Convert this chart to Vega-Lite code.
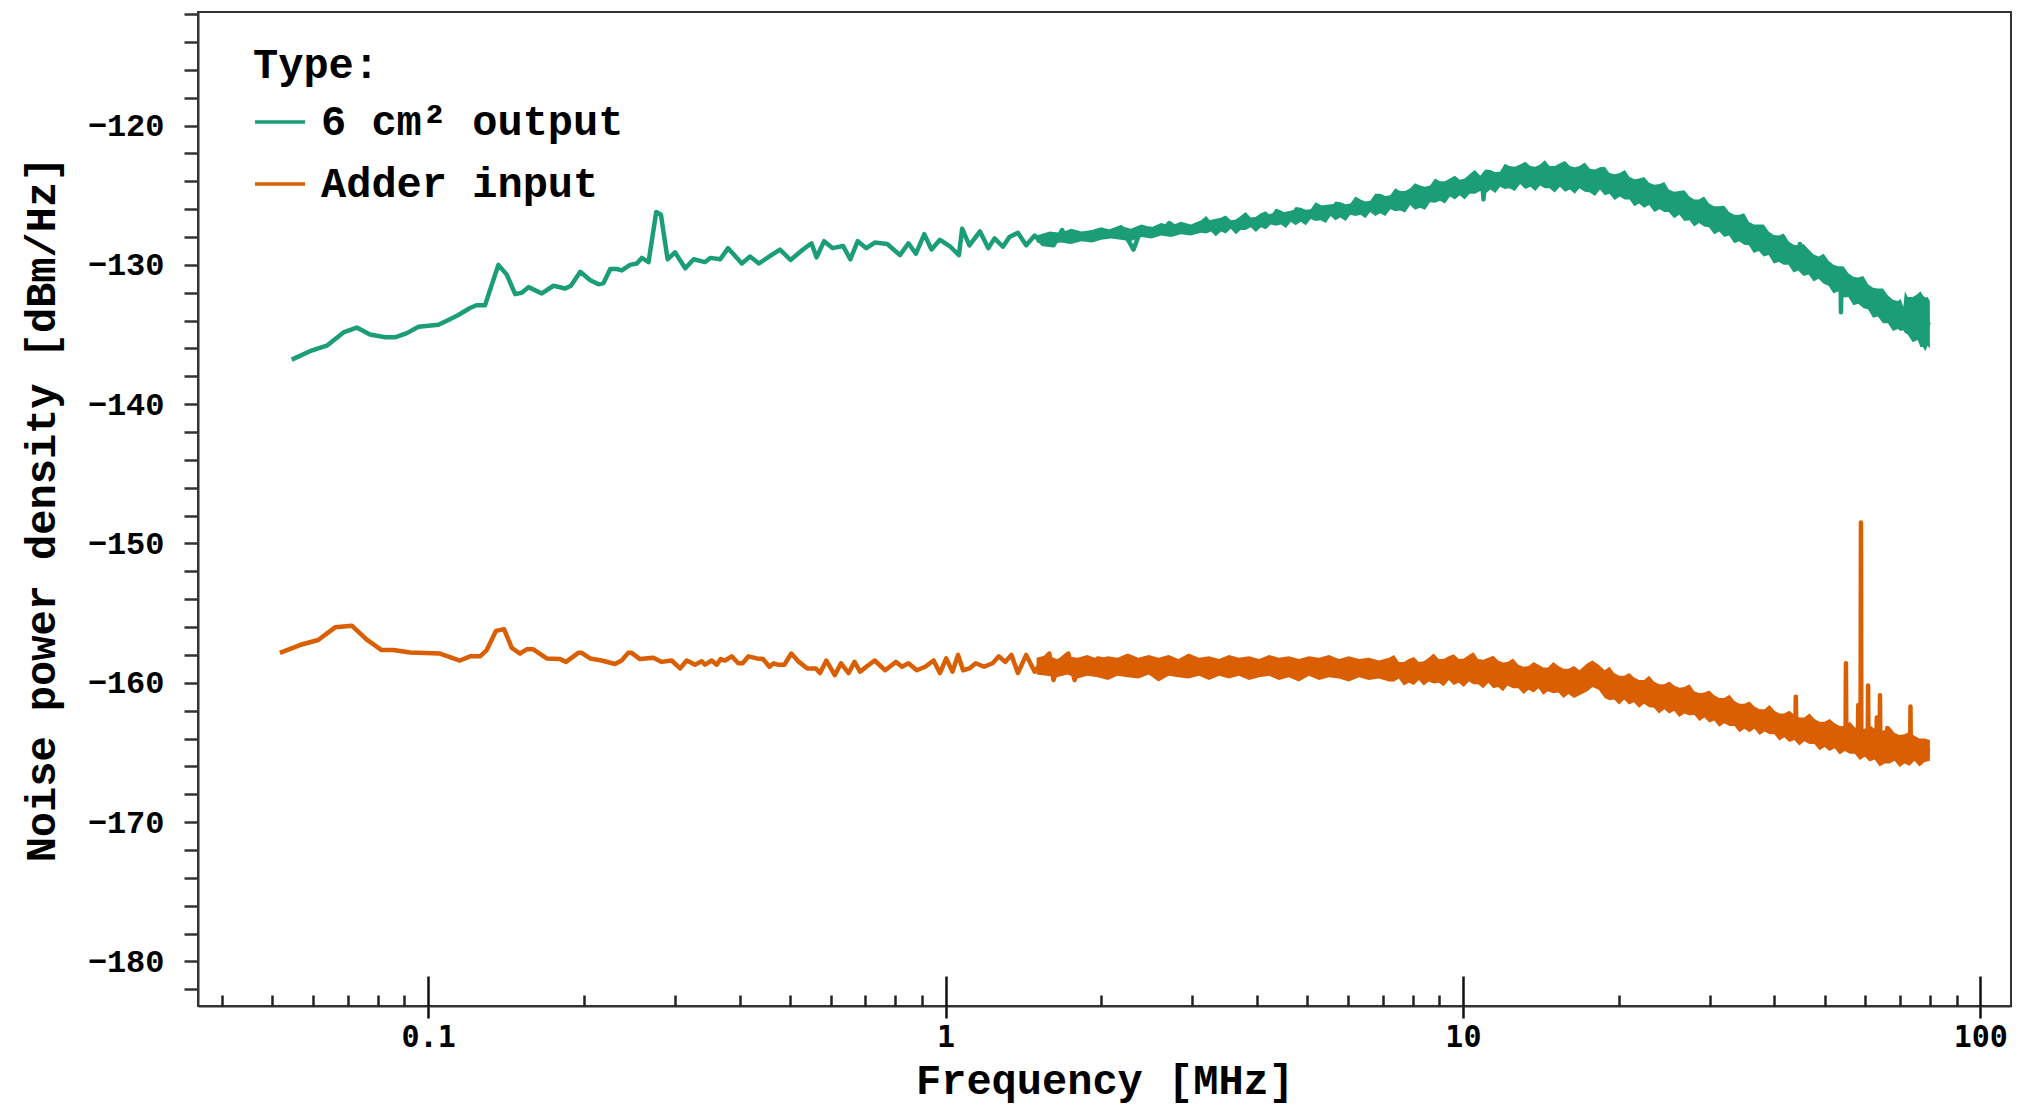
{
  "$schema": "https://vega.github.io/schema/vega-lite/v6.json",
  "autosize": {"type": "none"},
  "width": 1813,
  "height": 994,
  "padding": {"left": 198, "top": 12, "right": 17, "bottom": 99},
  "background": "white",
  "config": {
    "view": {"stroke": "#333", "strokeWidth": 2},
    "axis": {"grid": false, "domainColor": "#333", "domainWidth": 2, "tickColor": "#222", "tickWidth": 2.5, "labelColor": "#000", "titleColor": "#000"},
    "axisY": {"title": "Noise power density [dBm/Hz]",
      "values": [-115, -120, -125, -130, -135, -140, -145, -150, -155, -160, -165, -170, -175, -180],
      "labelExpr": "datum.value % 10 === 0 ? datum.label : ''",
      "tickSize": 14, "tickWidth": 2.5, "tickColor": "#333", "labelOverlap": false, "labelFlush": false,
      "labelFont": "Courier New, Liberation Mono, monospace", "labelFontSize": 32, "labelFontWeight": "bold", "labelPadding": 20,
      "titleFont": "Courier New, Liberation Mono, monospace", "titleFontSize": 42, "titleFontWeight": "bold", "titlePadding": 24},
    "legend": {"orient": "none", "legendX": 55, "legendY": 33, "padding": 0, "labelLimit": 0,
      "titleFont": "Courier New, Liberation Mono, monospace", "titleFontSize": 42, "titleFontWeight": "bold", "titleColor": "#000", "titlePadding": 8,
      "labelFont": "Courier New, Liberation Mono, monospace", "labelFontSize": 42, "labelFontWeight": "bold", "labelColor": "#000",
      "symbolType": "stroke", "symbolSize": 2500, "symbolStrokeWidth": 3.5, "labelOffset": 14, "rowPadding": 14}
  },
  "datasets": {
    "green": [
      {"s":"6 cm² output","f":0.0545,"v":-136.8},{"s":"6 cm² output","f":0.0591,"v":-136.2},{"s":"6 cm² output","f":0.0637,"v":-135.8},{"s":"6 cm² output","f":0.0686,"v":-134.85},{"s":"6 cm² output","f":0.0728,"v":-134.5},{"s":"6 cm² output","f":0.0772,"v":-135.0},{"s":"6 cm² output","f":0.0826,"v":-135.2},{"s":"6 cm² output","f":0.0863,"v":-135.2},{"s":"6 cm² output","f":0.091,"v":-134.9},{"s":"6 cm² output","f":0.0958,"v":-134.45},
      {"s":"6 cm² output","f":0.1047,"v":-134.3},{"s":"6 cm² output","f":0.1102,"v":-133.9},{"s":"6 cm² output","f":0.1144,"v":-133.6},{"s":"6 cm² output","f":0.1205,"v":-133.1},{"s":"6 cm² output","f":0.124,"v":-132.9},{"s":"6 cm² output","f":0.1288,"v":-132.9},{"s":"6 cm² output","f":0.1367,"v":-130.0},{"s":"6 cm² output","f":0.1419,"v":-130.7},{"s":"6 cm² output","f":0.1473,"v":-132.1},{"s":"6 cm² output","f":0.1517,"v":-132.0},
      {"s":"6 cm² output","f":0.1563,"v":-131.6},{"s":"6 cm² output","f":0.1659,"v":-132.05},{"s":"6 cm² output","f":0.1747,"v":-131.5},{"s":"6 cm² output","f":0.184,"v":-131.7},{"s":"6 cm² output","f":0.1888,"v":-131.5},{"s":"6 cm² output","f":0.1968,"v":-130.5},{"s":"6 cm² output","f":0.2058,"v":-131.1},{"s":"6 cm² output","f":0.2135,"v":-131.4},{"s":"6 cm² output","f":0.2183,"v":-131.3},{"s":"6 cm² output","f":0.2249,"v":-130.3},
      {"s":"6 cm² output","f":0.2317,"v":-130.3},{"s":"6 cm² output","f":0.2368,"v":-130.4},{"s":"6 cm² output","f":0.2456,"v":-130.0},{"s":"6 cm² output","f":0.2531,"v":-129.9},{"s":"6 cm² output","f":0.2588,"v":-129.5},{"s":"6 cm² output","f":0.2667,"v":-129.8},{"s":"6 cm² output","f":0.276,"v":-126.2},{"s":"6 cm² output","f":0.2818,"v":-126.4},{"s":"6 cm² output","f":0.2903,"v":-129.6},{"s":"6 cm² output","f":0.3,"v":-129.1},
      {"s":"6 cm² output","f":0.314,"v":-130.25},{"s":"6 cm² output","f":0.326,"v":-129.6},{"s":"6 cm² output","f":0.343,"v":-129.8},{"s":"6 cm² output","f":0.351,"v":-129.5},{"s":"6 cm² output","f":0.367,"v":-129.6},{"s":"6 cm² output","f":0.38,"v":-128.8},{"s":"6 cm² output","f":0.404,"v":-129.9},{"s":"6 cm² output","f":0.419,"v":-129.4},{"s":"6 cm² output","f":0.4358,"v":-129.9},{"s":"6 cm² output","f":0.4568,"v":-129.4},
      {"s":"6 cm² output","f":0.4787,"v":-128.9},{"s":"6 cm² output","f":0.5017,"v":-129.65},{"s":"6 cm² output","f":0.5304,"v":-128.9},{"s":"6 cm² output","f":0.5508,"v":-128.45},{"s":"6 cm² output","f":0.5633,"v":-129.46},{"s":"6 cm² output","f":0.5826,"v":-128.3},{"s":"6 cm² output","f":0.6048,"v":-128.8},{"s":"6 cm² output","f":0.634,"v":-128.65},{"s":"6 cm² output","f":0.6546,"v":-129.6},{"s":"6 cm² output","f":0.6767,"v":-128.3},
      {"s":"6 cm² output","f":0.703,"v":-128.8},{"s":"6 cm² output","f":0.7297,"v":-128.4},{"s":"6 cm² output","f":0.7718,"v":-128.5},{"s":"6 cm² output","f":0.8164,"v":-129.3},{"s":"6 cm² output","f":0.8479,"v":-128.45},{"s":"6 cm² output","f":0.8766,"v":-129.2},{"s":"6 cm² output","f":0.91,"v":-127.8},{"s":"6 cm² output","f":0.9395,"v":-128.9},{"s":"6 cm² output","f":0.9754,"v":-128.2},{"s":"6 cm² output","f":1.022,"v":-128.7},
      {"s":"6 cm² output","f":1.0614,"v":-129.3},{"s":"6 cm² output","f":1.077,"v":-127.4},{"s":"6 cm² output","f":1.112,"v":-128.6},{"s":"6 cm² output","f":1.166,"v":-127.6},{"s":"6 cm² output","f":1.21,"v":-128.8},{"s":"6 cm² output","f":1.244,"v":-128.1},{"s":"6 cm² output","f":1.291,"v":-128.7},{"s":"6 cm² output","f":1.329,"v":-128.0},{"s":"6 cm² output","f":1.38,"v":-127.7},{"s":"6 cm² output","f":1.432,"v":-128.6},
      {"s":"6 cm² output","f":1.487,"v":-127.9},{"s":"6 cm² output","f":1.543,"v":-128.5},{"s":"6 cm² output","f":1.617,"v":-128.6},{"s":"6 cm² output","f":1.68,"v":-127.5},{"s":"6 cm² output","f":1.727,"v":-128.3},{"s":"6 cm² output","f":1.793,"v":-127.7},{"s":"6 cm² output","f":1.896,"v":-128.2},{"s":"6 cm² output","f":1.987,"v":-128.0},{"s":"6 cm² output","f":2.083,"v":-127.6},{"s":"6 cm² output","f":2.183,"v":-127.3},
      {"s":"6 cm² output","f":2.309,"v":-128.9},{"s":"6 cm² output","f":2.374,"v":-127.7},{"s":"6 cm² output","f":2.488,"v":-127.4},{"s":"6 cm² output","f":2.609,"v":-127.7},{"s":"6 cm² output","f":2.707,"v":-127.0},{"s":"6 cm² output","f":2.864,"v":-127.6},{"s":"6 cm² output","f":3.029,"v":-127.3},{"s":"6 cm² output","f":3.205,"v":-127.0},{"s":"6 cm² output","f":3.39,"v":-126.8},{"s":"6 cm² output","f":3.585,"v":-127.1},
      {"s":"6 cm² output","f":3.794,"v":-126.7},{"s":"6 cm² output","f":4.012,"v":-126.9},{"s":"6 cm² output","f":4.244,"v":-126.5},{"s":"6 cm² output","f":4.488,"v":-126.4},{"s":"6 cm² output","f":4.748,"v":-126.2},{"s":"6 cm² output","f":5.023,"v":-126.3},{"s":"6 cm² output","f":5.313,"v":-125.9},{"s":"6 cm² output","f":5.62,"v":-125.8},{"s":"6 cm² output","f":5.947,"v":-126.1},{"s":"6 cm² output","f":6.291,"v":-125.7},
      {"s":"6 cm² output","f":6.653,"v":-125.8},{"s":"6 cm² output","f":7.036,"v":-125.6},{"s":"6 cm² output","f":7.557,"v":-125.5},{"s":"6 cm² output","f":8.5,"v":-125.0},{"s":"6 cm² output","f":10.9,"v":-124.0},{"s":"6 cm² output","f":10.96,"v":-125.3},{"s":"6 cm² output","f":11.02,"v":-124.0},{"s":"6 cm² output","f":13.5,"v":-123.6},{"s":"6 cm² output","f":20,"v":-124.2},{"s":"6 cm² output","f":30,"v":-126.4},
      {"s":"6 cm² output","f":40,"v":-128.6},{"s":"6 cm² output","f":44.7,"v":-129.4},{"s":"6 cm² output","f":44.8,"v":-128.5},{"s":"6 cm² output","f":44.9,"v":-129.4},{"s":"6 cm² output","f":50,"v":-130.5},{"s":"6 cm² output","f":53.7,"v":-131.0},{"s":"6 cm² output","f":53.8,"v":-133.4},{"s":"6 cm² output","f":53.9,"v":-131.0},{"s":"6 cm² output","f":60,"v":-132.2},{"s":"6 cm² output","f":70,"v":-133.5},{"s":"6 cm² output","f":80,"v":-134.3}
    ],
    "orange": [
      {"s":"Adder input","f":0.0517,"v":-157.85},{"s":"Adder input","f":0.0565,"v":-157.29},{"s":"Adder input","f":0.0613,"v":-156.93},{"s":"Adder input","f":0.0661,"v":-156.02},{"s":"Adder input","f":0.0712,"v":-155.9},{"s":"Adder input","f":0.0761,"v":-156.9},{"s":"Adder input","f":0.0813,"v":-157.65},{"s":"Adder input","f":0.0857,"v":-157.65},{"s":"Adder input","f":0.0923,"v":-157.82},{"s":"Adder input","f":0.1054,"v":-157.9},
      {"s":"Adder input","f":0.1152,"v":-158.4},{"s":"Adder input","f":0.1205,"v":-158.1},{"s":"Adder input","f":0.126,"v":-158.1},{"s":"Adder input","f":0.1298,"v":-157.65},{"s":"Adder input","f":0.1353,"v":-156.27},{"s":"Adder input","f":0.1402,"v":-156.15},{"s":"Adder input","f":0.1451,"v":-157.5},{"s":"Adder input","f":0.1505,"v":-157.9},{"s":"Adder input","f":0.1551,"v":-157.6},{"s":"Adder input","f":0.1597,"v":-157.6},
      {"s":"Adder input","f":0.1695,"v":-158.25},{"s":"Adder input","f":0.1799,"v":-158.3},{"s":"Adder input","f":0.1847,"v":-158.5},{"s":"Adder input","f":0.1951,"v":-157.85},{"s":"Adder input","f":0.1981,"v":-157.85},{"s":"Adder input","f":0.2056,"v":-158.25},{"s":"Adder input","f":0.2165,"v":-158.4},{"s":"Adder input","f":0.2297,"v":-158.65},{"s":"Adder input","f":0.2366,"v":-158.4},{"s":"Adder input","f":0.2436,"v":-157.85},
      {"s":"Adder input","f":0.2474,"v":-157.85},{"s":"Adder input","f":0.2567,"v":-158.3},{"s":"Adder input","f":0.2725,"v":-158.2},{"s":"Adder input","f":0.2828,"v":-158.5},{"s":"Adder input","f":0.2956,"v":-158.4},{"s":"Adder input","f":0.3068,"v":-158.97},{"s":"Adder input","f":0.3161,"v":-158.4},{"s":"Adder input","f":0.328,"v":-158.7},{"s":"Adder input","f":0.3379,"v":-158.45},{"s":"Adder input","f":0.3429,"v":-158.7},
      {"s":"Adder input","f":0.3532,"v":-158.4},{"s":"Adder input","f":0.3612,"v":-158.7},{"s":"Adder input","f":0.3677,"v":-158.3},{"s":"Adder input","f":0.3748,"v":-158.4},{"s":"Adder input","f":0.3862,"v":-158.1},{"s":"Adder input","f":0.3976,"v":-158.6},{"s":"Adder input","f":0.4055,"v":-158.6},{"s":"Adder input","f":0.4158,"v":-158.1},{"s":"Adder input","f":0.4317,"v":-158.25},{"s":"Adder input","f":0.4441,"v":-158.3},
      {"s":"Adder input","f":0.4568,"v":-158.85},{"s":"Adder input","f":0.4656,"v":-158.6},{"s":"Adder input","f":0.4744,"v":-158.7},{"s":"Adder input","f":0.488,"v":-158.7},{"s":"Adder input","f":0.5035,"v":-157.9},{"s":"Adder input","f":0.5208,"v":-158.5},{"s":"Adder input","f":0.5406,"v":-158.97},{"s":"Adder input","f":0.5614,"v":-158.97},{"s":"Adder input","f":0.572,"v":-159.3},{"s":"Adder input","f":0.5884,"v":-158.4},
      {"s":"Adder input","f":0.6108,"v":-159.45},{"s":"Adder input","f":0.6281,"v":-158.6},{"s":"Adder input","f":0.6497,"v":-159.3},{"s":"Adder input","f":0.667,"v":-158.5},{"s":"Adder input","f":0.6837,"v":-159.2},{"s":"Adder input","f":0.703,"v":-158.85},{"s":"Adder input","f":0.7297,"v":-158.4},{"s":"Adder input","f":0.7645,"v":-159.1},{"s":"Adder input","f":0.8014,"v":-158.5},{"s":"Adder input","f":0.824,"v":-158.85},
      {"s":"Adder input","f":0.8479,"v":-158.6},{"s":"Adder input","f":0.88,"v":-159.1},{"s":"Adder input","f":0.9136,"v":-158.85},{"s":"Adder input","f":0.9484,"v":-158.4},{"s":"Adder input","f":0.9754,"v":-159.3},{"s":"Adder input","f":1.0031,"v":-158.25},{"s":"Adder input","f":1.0316,"v":-159.2},{"s":"Adder input","f":1.0572,"v":-158.0},{"s":"Adder input","f":1.0815,"v":-159.1},{"s":"Adder input","f":1.112,"v":-158.97},
      {"s":"Adder input","f":1.144,"v":-158.6},{"s":"Adder input","f":1.187,"v":-158.85},{"s":"Adder input","f":1.233,"v":-158.6},{"s":"Adder input","f":1.268,"v":-158.1},{"s":"Adder input","f":1.304,"v":-158.5},{"s":"Adder input","f":1.341,"v":-158.0},{"s":"Adder input","f":1.38,"v":-159.3},{"s":"Adder input","f":1.432,"v":-158.0},{"s":"Adder input","f":1.487,"v":-159.2},{"s":"Adder input","f":1.543,"v":-158.4},
      {"s":"Adder input","f":1.587,"v":-157.9},{"s":"Adder input","f":1.617,"v":-159.8},{"s":"Adder input","f":1.664,"v":-158.4},{"s":"Adder input","f":1.727,"v":-157.9},{"s":"Adder input","f":1.776,"v":-159.8},{"s":"Adder input","f":1.827,"v":-158.6},{"s":"Adder input","f":1.896,"v":-159.1},{"s":"Adder input","f":1.969,"v":-158.25},{"s":"Adder input","f":2.5,"v":-158.9},{"s":"Adder input","f":5,"v":-158.9},
      {"s":"Adder input","f":10,"v":-159.0},{"s":"Adder input","f":17.8,"v":-159.4},{"s":"Adder input","f":25,"v":-161.0},{"s":"Adder input","f":35,"v":-162.4},{"s":"Adder input","f":43.9,"v":-163.2},{"s":"Adder input","f":44.0,"v":-161.0},{"s":"Adder input","f":44.1,"v":-163.2},{"s":"Adder input","f":50,"v":-163.7},{"s":"Adder input","f":54.9,"v":-164.0},{"s":"Adder input","f":55.0,"v":-158.6},
      {"s":"Adder input","f":55.1,"v":-164.0},{"s":"Adder input","f":58.0,"v":-164.1},{"s":"Adder input","f":58.1,"v":-161.6},{"s":"Adder input","f":58.2,"v":-164.1},{"s":"Adder input","f":58.7,"v":-164.1},{"s":"Adder input","f":58.8,"v":-148.5},{"s":"Adder input","f":58.9,"v":-164.1},{"s":"Adder input","f":60.6,"v":-164.2},{"s":"Adder input","f":60.7,"v":-160.2},{"s":"Adder input","f":60.8,"v":-164.2},
      {"s":"Adder input","f":63.0,"v":-164.3},{"s":"Adder input","f":63.1,"v":-162.5},{"s":"Adder input","f":63.2,"v":-164.3},{"s":"Adder input","f":63.9,"v":-164.3},{"s":"Adder input","f":64.0,"v":-160.9},{"s":"Adder input","f":64.1,"v":-164.3},{"s":"Adder input","f":66.0,"v":-164.6},{"s":"Adder input","f":66.1,"v":-163.25},{"s":"Adder input","f":66.2,"v":-164.6},{"s":"Adder input","f":73.2,"v":-164.8},
      {"s":"Adder input","f":73.3,"v":-161.7},{"s":"Adder input","f":73.4,"v":-164.8},{"s":"Adder input","f":80,"v":-164.9}
    ],
    "band": [
      {"s":"6 cm² output","f":1.5,"hi":-127.9,"lo":-128.4},{"s":"6 cm² output","f":1.59,"hi":-127.6,"lo":-128.5},{"s":"6 cm² output","f":1.67,"hi":-127.7,"lo":-128.4},{"s":"6 cm² output","f":1.75,"hi":-127.4,"lo":-128.5},{"s":"6 cm² output","f":1.83,"hi":-127.6,"lo":-128.3},{"s":"6 cm² output","f":1.92,"hi":-127.5,"lo":-128.4},{"s":"6 cm² output","f":2.0,"hi":-127.3,"lo":-128.2},{"s":"6 cm² output","f":2.09,"hi":-127.5,"lo":-128.1},{"s":"6 cm² output","f":2.18,"hi":-127.2,"lo":-128.2},{"s":"6 cm² output","f":2.28,"hi":-127.4,"lo":-128.3},
      {"s":"6 cm² output","f":2.39,"hi":-127.1,"lo":-128.0},{"s":"6 cm² output","f":2.5,"hi":-127.3,"lo":-128.1},{"s":"6 cm² output","f":2.61,"hi":-127.0,"lo":-127.9},{"s":"6 cm² output","f":2.73,"hi":-127.2,"lo":-128.0},{"s":"6 cm² output","f":2.85,"hi":-126.9,"lo":-127.8},{"s":"6 cm² output","f":2.98,"hi":-127.1,"lo":-127.9},{"s":"6 cm² output","f":3.12,"hi":-126.8,"lo":-127.7},{"s":"6 cm² output","f":3.26,"hi":-126.9,"lo":-127.6},{"s":"6 cm² output","f":3.41,"hi":-126.6,"lo":-127.6},{"s":"6 cm² output","f":3.56,"hi":-126.8,"lo":-127.4},
      {"s":"6 cm² output","f":3.72,"hi":-126.5,"lo":-127.5},{"s":"6 cm² output","f":3.89,"hi":-126.6,"lo":-127.3},{"s":"6 cm² output","f":4.07,"hi":-126.3,"lo":-127.3},{"s":"6 cm² output","f":4.25,"hi":-126.5,"lo":-127.1},{"s":"6 cm² output","f":4.45,"hi":-126.1,"lo":-127.1},{"s":"6 cm² output","f":4.65,"hi":-126.3,"lo":-126.9},{"s":"6 cm² output","f":4.86,"hi":-125.9,"lo":-126.9},{"s":"6 cm² output","f":5.08,"hi":-126.0,"lo":-126.7},{"s":"6 cm² output","f":5.31,"hi":-125.7,"lo":-126.8},{"s":"6 cm² output","f":5.55,"hi":-125.9,"lo":-126.5},
      {"s":"6 cm² output","f":5.8,"hi":-125.5,"lo":-126.6},{"s":"6 cm² output","f":6.06,"hi":-125.6,"lo":-126.4},{"s":"6 cm² output","f":6.34,"hi":-125.3,"lo":-126.4},{"s":"6 cm² output","f":6.62,"hi":-125.4,"lo":-126.2},{"s":"6 cm² output","f":6.92,"hi":-124.9,"lo":-126.3},{"s":"6 cm² output","f":7.24,"hi":-125.0,"lo":-126.0},{"s":"6 cm² output","f":7.56,"hi":-124.7,"lo":-126.1},{"s":"6 cm² output","f":7.91,"hi":-124.5,"lo":-125.7},{"s":"6 cm² output","f":8.26,"hi":-124.3,"lo":-125.9},{"s":"6 cm² output","f":8.64,"hi":-124.3,"lo":-125.5},
      {"s":"6 cm² output","f":9.03,"hi":-124.0,"lo":-125.4},{"s":"6 cm² output","f":9.44,"hi":-123.8,"lo":-125.1},{"s":"6 cm² output","f":9.86,"hi":-123.9,"lo":-125.0},{"s":"6 cm² output","f":10.3,"hi":-123.5,"lo":-124.9},{"s":"6 cm² output","f":10.8,"hi":-123.6,"lo":-124.7},{"s":"6 cm² output","f":11.3,"hi":-123.2,"lo":-124.6},{"s":"6 cm² output","f":11.8,"hi":-123.3,"lo":-124.4},{"s":"6 cm² output","f":12.3,"hi":-122.9,"lo":-124.5},{"s":"6 cm² output","f":12.9,"hi":-122.8,"lo":-124.2},{"s":"6 cm² output","f":13.5,"hi":-122.9,"lo":-124.4},
      {"s":"6 cm² output","f":14.1,"hi":-122.8,"lo":-124.3},{"s":"6 cm² output","f":14.7,"hi":-122.9,"lo":-124.5},{"s":"6 cm² output","f":15.4,"hi":-122.7,"lo":-124.4},{"s":"6 cm² output","f":16.1,"hi":-122.9,"lo":-124.6},{"s":"6 cm² output","f":16.8,"hi":-122.9,"lo":-124.5},{"s":"6 cm² output","f":17.6,"hi":-123.1,"lo":-124.8},{"s":"6 cm² output","f":18.4,"hi":-123.0,"lo":-124.6},{"s":"6 cm² output","f":19.2,"hi":-123.4,"lo":-124.9},{"s":"6 cm² output","f":20.1,"hi":-123.4,"lo":-125.1},{"s":"6 cm² output","f":21.0,"hi":-123.7,"lo":-125.3},
      {"s":"6 cm² output","f":21.9,"hi":-123.8,"lo":-125.6},{"s":"6 cm² output","f":22.9,"hi":-124.1,"lo":-125.7},{"s":"6 cm² output","f":24.0,"hi":-124.2,"lo":-126.0},{"s":"6 cm² output","f":25.0,"hi":-124.6,"lo":-126.2},{"s":"6 cm² output","f":26.2,"hi":-124.7,"lo":-126.4},{"s":"6 cm² output","f":27.4,"hi":-125.1,"lo":-126.8},{"s":"6 cm² output","f":28.6,"hi":-125.3,"lo":-127.0},{"s":"6 cm² output","f":29.9,"hi":-125.6,"lo":-127.3},{"s":"6 cm² output","f":31.3,"hi":-125.8,"lo":-127.6},{"s":"6 cm² output","f":32.7,"hi":-126.2,"lo":-127.9},
      {"s":"6 cm² output","f":34.2,"hi":-126.4,"lo":-128.3},{"s":"6 cm² output","f":35.7,"hi":-126.9,"lo":-128.6},{"s":"6 cm² output","f":37.3,"hi":-127.1,"lo":-129.0},{"s":"6 cm² output","f":39.0,"hi":-127.6,"lo":-129.3},{"s":"6 cm² output","f":40.8,"hi":-127.9,"lo":-129.8},{"s":"6 cm² output","f":42.6,"hi":-128.3,"lo":-130.0},{"s":"6 cm² output","f":44.5,"hi":-128.6,"lo":-130.4},{"s":"6 cm² output","f":46.6,"hi":-128.9,"lo":-130.7},{"s":"6 cm² output","f":48.7,"hi":-129.4,"lo":-131.0},{"s":"6 cm² output","f":50.9,"hi":-129.7,"lo":-131.5},
      {"s":"6 cm² output","f":53.2,"hi":-130.1,"lo":-131.9},{"s":"6 cm² output","f":55.6,"hi":-130.6,"lo":-132.3},{"s":"6 cm² output","f":58.1,"hi":-130.9,"lo":-132.8},{"s":"6 cm² output","f":60.7,"hi":-131.4,"lo":-133.2},{"s":"6 cm² output","f":63.4,"hi":-131.7,"lo":-133.7},{"s":"6 cm² output","f":66.3,"hi":-132.2,"lo":-134.2},{"s":"6 cm² output","f":69.3,"hi":-132.6,"lo":-134.6},{"s":"6 cm² output","f":71.0,"hi":-133.0,"lo":-134.7},{"s":"6 cm² output","f":71.5,"hi":-131.9,"lo":-134.9},{"s":"6 cm² output","f":72.4,"hi":-132.3,"lo":-135.0},
      {"s":"6 cm² output","f":75.7,"hi":-132.1,"lo":-135.4},{"s":"6 cm² output","f":77.5,"hi":-132.2,"lo":-135.9},{"s":"6 cm² output","f":79.1,"hi":-132.3,"lo":-135.8},{"s":"6 cm² output","f":79.9,"hi":-132.6,"lo":-136.0},
      {"s":"6 cm² output","f":3.19,"hi":-126.5,"lo":-127.75},{"s":"6 cm² output","f":3.33,"hi":-126.85,"lo":-127.95},{"s":"6 cm² output","f":3.48,"hi":-126.45,"lo":-127.75},{"s":"6 cm² output","f":3.64,"hi":-126.75,"lo":-127.8},{"s":"6 cm² output","f":3.8,"hi":-126.2,"lo":-127.5},{"s":"6 cm² output","f":3.98,"hi":-126.55,"lo":-127.65},{"s":"6 cm² output","f":4.16,"hi":-126.15,"lo":-127.45},{"s":"6 cm² output","f":4.35,"hi":-125.95,"lo":-127.2},{"s":"6 cm² output","f":4.55,"hi":-126.3,"lo":-127.35},{"s":"6 cm² output","f":4.75,"hi":-125.85,"lo":-127.15},
      {"s":"6 cm² output","f":4.97,"hi":-126.05,"lo":-127.15},{"s":"6 cm² output","f":5.19,"hi":-125.5,"lo":-126.85},{"s":"6 cm² output","f":5.43,"hi":-125.9,"lo":-127.0},{"s":"6 cm² output","f":5.67,"hi":-125.45,"lo":-126.8},{"s":"6 cm² output","f":5.93,"hi":-125.65,"lo":-126.85},{"s":"6 cm² output","f":6.2,"hi":-125.1,"lo":-126.5},{"s":"6 cm² output","f":6.48,"hi":-125.45,"lo":-126.65},{"s":"6 cm² output","f":6.77,"hi":-124.9,"lo":-126.5},{"s":"6 cm² output","f":7.08,"hi":-125.05,"lo":-126.5},{"s":"6 cm² output","f":7.4,"hi":-124.5,"lo":-126.15},
      {"s":"6 cm² output","f":7.73,"hi":-124.7,"lo":-126.25},{"s":"6 cm² output","f":8.08,"hi":-124.15,"lo":-126.05},{"s":"6 cm² output","f":8.45,"hi":-124.4,"lo":-126.05},{"s":"6 cm² output","f":8.83,"hi":-123.8,"lo":-125.55},{"s":"6 cm² output","f":9.23,"hi":-124.0,"lo":-125.6},{"s":"6 cm² output","f":9.65,"hi":-123.6,"lo":-125.3},{"s":"6 cm² output","f":10.08,"hi":-123.8,"lo":-125.3},{"s":"6 cm² output","f":10.55,"hi":-123.2,"lo":-124.9},{"s":"6 cm² output","f":11.05,"hi":-123.15,"lo":-124.9},{"s":"6 cm² output","f":11.55,"hi":-123.35,"lo":-124.85},
      {"s":"6 cm² output","f":12.05,"hi":-122.75,"lo":-124.55},{"s":"6 cm² output","f":12.6,"hi":-122.95,"lo":-124.7},{"s":"6 cm² output","f":13.2,"hi":-122.6,"lo":-124.55},{"s":"6 cm² output","f":13.8,"hi":-122.95,"lo":-124.7},{"s":"6 cm² output","f":14.4,"hi":-122.5,"lo":-124.5},{"s":"6 cm² output","f":15.05,"hi":-122.9,"lo":-124.8},{"s":"6 cm² output","f":15.75,"hi":-122.55,"lo":-124.75},{"s":"6 cm² output","f":16.45,"hi":-123.0,"lo":-124.9},{"s":"6 cm² output","f":17.2,"hi":-122.65,"lo":-124.75},{"s":"6 cm² output","f":18.0,"hi":-123.15,"lo":-125.05},
      {"s":"6 cm² output","f":18.8,"hi":-122.95,"lo":-125.0},{"s":"6 cm² output","f":19.65,"hi":-123.5,"lo":-125.35},{"s":"6 cm² output","f":20.55,"hi":-123.2,"lo":-125.3},{"s":"6 cm² output","f":21.45,"hi":-123.85,"lo":-125.8},{"s":"6 cm² output","f":22.4,"hi":-123.7,"lo":-125.9},{"s":"6 cm² output","f":23.45,"hi":-124.25,"lo":-126.2},{"s":"6 cm² output","f":24.5,"hi":-124.05,"lo":-126.2},{"s":"6 cm² output","f":25.6,"hi":-124.75,"lo":-126.65},{"s":"6 cm² output","f":26.8,"hi":-124.65,"lo":-126.85},{"s":"6 cm² output","f":28.0,"hi":-125.3,"lo":-127.25},
      {"s":"6 cm² output","f":29.25,"hi":-125.1,"lo":-127.25},{"s":"6 cm² output","f":30.6,"hi":-125.8,"lo":-127.8},{"s":"6 cm² output","f":32.0,"hi":-125.75,"lo":-128.0},{"s":"6 cm² output","f":33.45,"hi":-126.4,"lo":-128.45},{"s":"6 cm² output","f":34.95,"hi":-126.3,"lo":-128.55},{"s":"6 cm² output","f":36.5,"hi":-127.1,"lo":-129.15},{"s":"6 cm² output","f":38.15,"hi":-127.1,"lo":-129.4},{"s":"6 cm² output","f":39.9,"hi":-127.85,"lo":-129.9},{"s":"6 cm² output","f":41.7,"hi":-127.75,"lo":-130.0},{"s":"6 cm² output","f":43.55,"hi":-128.55,"lo":-130.55},
      {"s":"6 cm² output","f":45.55,"hi":-128.5,"lo":-130.8},{"s":"6 cm² output","f":47.65,"hi":-129.25,"lo":-131.2},{"s":"6 cm² output","f":49.8,"hi":-129.2,"lo":-131.35},{"s":"6 cm² output","f":52.05,"hi":-130.0,"lo":-132.05},{"s":"6 cm² output","f":54.4,"hi":-130.1,"lo":-132.35},{"s":"6 cm² output","f":56.85,"hi":-130.85,"lo":-132.9},{"s":"6 cm² output","f":59.4,"hi":-130.8,"lo":-133.1},{"s":"6 cm² output","f":62.05,"hi":-131.65,"lo":-133.8},{"s":"6 cm² output","f":64.85,"hi":-131.7,"lo":-134.2},{"s":"6 cm² output","f":67.8,"hi":-132.5,"lo":-134.75},
      {"s":"6 cm² output","f":70.15,"hi":-132.45,"lo":-134.75},{"s":"6 cm² output","f":74.05,"hi":-132.3,"lo":-135.55},{"s":"6 cm² output","f":76.6,"hi":-131.9,"lo":-135.9},{"s":"6 cm² output","f":78.3,"hi":-132.35,"lo":-136.2},
      {"s":"Adder input","f":1.5,"hi":-158.2,"lo":-159.4},{"s":"Adder input","f":1.57,"hi":-158.0,"lo":-159.5},{"s":"Adder input","f":1.64,"hi":-158.3,"lo":-159.6},{"s":"Adder input","f":1.72,"hi":-158.1,"lo":-159.4},{"s":"Adder input","f":1.8,"hi":-158.2,"lo":-159.7},{"s":"Adder input","f":1.88,"hi":-158.0,"lo":-159.5},{"s":"Adder input","f":1.97,"hi":-158.3,"lo":-159.6},{"s":"Adder input","f":2.06,"hi":-158.1,"lo":-159.8},{"s":"Adder input","f":2.15,"hi":-158.2,"lo":-159.5},{"s":"Adder input","f":2.25,"hi":-157.9,"lo":-159.6},
      {"s":"Adder input","f":2.36,"hi":-158.2,"lo":-159.7},{"s":"Adder input","f":2.47,"hi":-158.0,"lo":-159.4},{"s":"Adder input","f":2.58,"hi":-158.2,"lo":-159.9},{"s":"Adder input","f":2.7,"hi":-158.0,"lo":-159.5},{"s":"Adder input","f":2.82,"hi":-158.3,"lo":-159.6},{"s":"Adder input","f":2.95,"hi":-157.9,"lo":-159.7},{"s":"Adder input","f":3.09,"hi":-158.2,"lo":-159.5},{"s":"Adder input","f":3.23,"hi":-158.1,"lo":-159.8},{"s":"Adder input","f":3.38,"hi":-158.3,"lo":-159.5},{"s":"Adder input","f":3.53,"hi":-158.0,"lo":-159.7},
      {"s":"Adder input","f":3.69,"hi":-158.2,"lo":-159.5},{"s":"Adder input","f":3.86,"hi":-158.1,"lo":-159.8},{"s":"Adder input","f":4.04,"hi":-158.3,"lo":-159.6},{"s":"Adder input","f":4.22,"hi":-158.0,"lo":-159.5},{"s":"Adder input","f":4.41,"hi":-158.2,"lo":-159.8},{"s":"Adder input","f":4.61,"hi":-158.1,"lo":-159.6},{"s":"Adder input","f":4.82,"hi":-158.3,"lo":-159.9},{"s":"Adder input","f":5.04,"hi":-158.1,"lo":-159.5},{"s":"Adder input","f":5.27,"hi":-158.2,"lo":-159.8},{"s":"Adder input","f":5.51,"hi":-158.0,"lo":-159.6},
      {"s":"Adder input","f":5.76,"hi":-158.3,"lo":-159.7},{"s":"Adder input","f":6.02,"hi":-158.1,"lo":-159.9},{"s":"Adder input","f":6.3,"hi":-158.3,"lo":-159.6},{"s":"Adder input","f":6.58,"hi":-158.2,"lo":-159.8},{"s":"Adder input","f":6.88,"hi":-158.4,"lo":-159.7},{"s":"Adder input","f":7.2,"hi":-158.2,"lo":-159.9},{"s":"Adder input","f":7.52,"hi":-158.5,"lo":-159.7},{"s":"Adder input","f":7.86,"hi":-158.3,"lo":-160.0},{"s":"Adder input","f":8.22,"hi":-158.5,"lo":-159.8},{"s":"Adder input","f":8.59,"hi":-158.2,"lo":-159.9},
      {"s":"Adder input","f":8.98,"hi":-158.3,"lo":-160.0},{"s":"Adder input","f":9.39,"hi":-158.1,"lo":-159.8},{"s":"Adder input","f":9.82,"hi":-158.3,"lo":-160.0},{"s":"Adder input","f":10.27,"hi":-158.0,"lo":-159.9},{"s":"Adder input","f":10.7,"hi":-158.3,"lo":-160.1},{"s":"Adder input","f":11.2,"hi":-158.2,"lo":-160.0},{"s":"Adder input","f":11.7,"hi":-158.4,"lo":-160.3},{"s":"Adder input","f":12.2,"hi":-158.5,"lo":-160.2},{"s":"Adder input","f":12.8,"hi":-158.7,"lo":-160.4},{"s":"Adder input","f":13.4,"hi":-158.8,"lo":-160.5},
      {"s":"Adder input","f":14.0,"hi":-158.7,"lo":-160.4},{"s":"Adder input","f":14.6,"hi":-158.9,"lo":-160.6},{"s":"Adder input","f":15.3,"hi":-158.8,"lo":-160.7},{"s":"Adder input","f":16.0,"hi":-159.0,"lo":-160.8},{"s":"Adder input","f":16.8,"hi":-159.1,"lo":-160.9},{"s":"Adder input","f":17.4,"hi":-158.6,"lo":-160.6},{"s":"Adder input","f":17.8,"hi":-158.4,"lo":-160.3},{"s":"Adder input","f":18.3,"hi":-158.7,"lo":-160.5},{"s":"Adder input","f":18.8,"hi":-159.1,"lo":-161.1},{"s":"Adder input","f":19.6,"hi":-159.3,"lo":-161.2},
      {"s":"Adder input","f":20.5,"hi":-159.5,"lo":-161.2},{"s":"Adder input","f":21.4,"hi":-159.6,"lo":-161.4},{"s":"Adder input","f":22.4,"hi":-159.8,"lo":-161.5},{"s":"Adder input","f":23.4,"hi":-159.9,"lo":-161.8},{"s":"Adder input","f":24.5,"hi":-160.1,"lo":-161.9},{"s":"Adder input","f":25.6,"hi":-160.2,"lo":-162.0},{"s":"Adder input","f":26.8,"hi":-160.3,"lo":-162.2},{"s":"Adder input","f":28.0,"hi":-160.6,"lo":-162.3},{"s":"Adder input","f":29.3,"hi":-160.7,"lo":-162.5},{"s":"Adder input","f":30.6,"hi":-160.9,"lo":-162.7},
      {"s":"Adder input","f":32.0,"hi":-161.1,"lo":-162.9},{"s":"Adder input","f":33.5,"hi":-161.3,"lo":-163.1},{"s":"Adder input","f":35.0,"hi":-161.5,"lo":-163.3},{"s":"Adder input","f":36.6,"hi":-161.7,"lo":-163.3},{"s":"Adder input","f":38.3,"hi":-161.9,"lo":-163.5},{"s":"Adder input","f":40.0,"hi":-162.0,"lo":-163.7},{"s":"Adder input","f":41.8,"hi":-162.2,"lo":-163.9},{"s":"Adder input","f":43.7,"hi":-162.3,"lo":-164.1},{"s":"Adder input","f":45.7,"hi":-162.5,"lo":-164.2},{"s":"Adder input","f":47.8,"hi":-162.6,"lo":-164.4},
      {"s":"Adder input","f":50.0,"hi":-162.8,"lo":-164.6},{"s":"Adder input","f":52.3,"hi":-162.9,"lo":-164.7},{"s":"Adder input","f":54.7,"hi":-163.1,"lo":-164.9},{"s":"Adder input","f":57.2,"hi":-163.2,"lo":-165.1},{"s":"Adder input","f":59.8,"hi":-163.3,"lo":-165.3},{"s":"Adder input","f":62.5,"hi":-163.3,"lo":-165.5},{"s":"Adder input","f":65.3,"hi":-163.4,"lo":-165.8},{"s":"Adder input","f":68.3,"hi":-163.6,"lo":-165.6},{"s":"Adder input","f":71.4,"hi":-163.7,"lo":-165.8},{"s":"Adder input","f":74.6,"hi":-163.8,"lo":-165.6},
      {"s":"Adder input","f":78.0,"hi":-164.0,"lo":-165.7},{"s":"Adder input","f":79.9,"hi":-164.1,"lo":-165.6},
      {"s":"Adder input","f":7.36,"hi":-158.0,"lo":-159.9},{"s":"Adder input","f":7.69,"hi":-158.5,"lo":-160.2},{"s":"Adder input","f":8.04,"hi":-158.15,"lo":-160.15},{"s":"Adder input","f":8.4,"hi":-158.45,"lo":-160.2},{"s":"Adder input","f":8.78,"hi":-157.9,"lo":-160.05},{"s":"Adder input","f":9.18,"hi":-158.3,"lo":-160.25},{"s":"Adder input","f":9.6,"hi":-157.95,"lo":-160.15},{"s":"Adder input","f":10.04,"hi":-158.25,"lo":-160.3},{"s":"Adder input","f":10.48,"hi":-157.8,"lo":-160.1},{"s":"Adder input","f":10.95,"hi":-158.35,"lo":-160.4},
      {"s":"Adder input","f":11.45,"hi":-158.05,"lo":-160.4},{"s":"Adder input","f":11.95,"hi":-158.55,"lo":-160.6},{"s":"Adder input","f":12.5,"hi":-158.25,"lo":-160.4},{"s":"Adder input","f":13.1,"hi":-158.85,"lo":-160.8},{"s":"Adder input","f":13.7,"hi":-158.5,"lo":-160.7},{"s":"Adder input","f":14.3,"hi":-158.9,"lo":-160.85},{"s":"Adder input","f":14.95,"hi":-158.5,"lo":-160.75},{"s":"Adder input","f":15.65,"hi":-159.0,"lo":-161.1},{"s":"Adder input","f":16.4,"hi":-158.8,"lo":-161.1},{"s":"Adder input","f":19.2,"hi":-158.85,"lo":-161.25},
      {"s":"Adder input","f":20.05,"hi":-159.5,"lo":-161.55},{"s":"Adder input","f":20.95,"hi":-159.3,"lo":-161.55},{"s":"Adder input","f":21.9,"hi":-159.8,"lo":-161.8},{"s":"Adder input","f":22.9,"hi":-159.5,"lo":-161.75},{"s":"Adder input","f":23.95,"hi":-160.1,"lo":-162.2},{"s":"Adder input","f":25.05,"hi":-159.9,"lo":-162.2},{"s":"Adder input","f":26.2,"hi":-160.35,"lo":-162.45},{"s":"Adder input","f":27.4,"hi":-160.1,"lo":-162.35},{"s":"Adder input","f":28.65,"hi":-160.75,"lo":-162.75},{"s":"Adder input","f":29.95,"hi":-160.55,"lo":-162.85},
      {"s":"Adder input","f":31.3,"hi":-161.1,"lo":-163.15},{"s":"Adder input","f":32.75,"hi":-160.85,"lo":-163.1},{"s":"Adder input","f":34.25,"hi":-161.5,"lo":-163.55},{"s":"Adder input","f":35.8,"hi":-161.35,"lo":-163.55},{"s":"Adder input","f":37.45,"hi":-161.9,"lo":-163.75},{"s":"Adder input","f":39.15,"hi":-161.6,"lo":-163.7},{"s":"Adder input","f":40.9,"hi":-162.2,"lo":-164.15},{"s":"Adder input","f":42.75,"hi":-162.0,"lo":-164.25},{"s":"Adder input","f":44.7,"hi":-162.5,"lo":-164.5},{"s":"Adder input","f":46.75,"hi":-162.2,"lo":-164.4},
      {"s":"Adder input","f":48.9,"hi":-162.8,"lo":-164.85},{"s":"Adder input","f":51.15,"hi":-162.6,"lo":-164.9},{"s":"Adder input","f":53.5,"hi":-163.1,"lo":-165.15},{"s":"Adder input","f":55.95,"hi":-162.8,"lo":-165.1},{"s":"Adder input","f":58.5,"hi":-163.35,"lo":-165.55},{"s":"Adder input","f":61.15,"hi":-163.05,"lo":-165.65},{"s":"Adder input","f":63.9,"hi":-163.45,"lo":-166.0},{"s":"Adder input","f":66.8,"hi":-163.15,"lo":-165.8},{"s":"Adder input","f":69.85,"hi":-163.75,"lo":-166.05},{"s":"Adder input","f":73.0,"hi":-163.5,"lo":-165.95},
      {"s":"Adder input","f":76.3,"hi":-164.0,"lo":-166.0}
    ]
  },
  "layer": [
    {
      "data": {"name": "band"},
      "mark": {"type": "area", "opacity": 1},
      "encoding": {
        "x": {"field": "f", "type": "quantitative", "sort": "ascending",
          "scale": {"type": "log", "domain": [0.03591, 114.65], "nice": false},
          "axis": {"orient": "bottom", "title": "Frequency [MHz]", "values": [0.1, 1, 10, 100], "format": "~g",
            "tickSize": 12, "tickWidth": 2.5, "tickColor": "#111", "labelOverlap": false, "labelFlush": false,
            "labelFont": "DejaVu Sans Mono", "labelFontSize": 30, "labelFontWeight": "bold", "labelPadding": 4,
            "titleFont": "Courier New, Liberation Mono, monospace", "titleFontSize": 42, "titleFontWeight": "bold", "titlePadding": 8}},
        "y": {"field": "hi", "type": "quantitative",
          "scale": {"domain": [-183.2, -111.85], "nice": false, "zero": false},
          "axis": {"title": "Noise power density [dBm/Hz]"}},
        "y2": {"field": "lo"},
        "color": {"field": "s", "type": "nominal",
          "scale": {"domain": ["6 cm² output", "Adder input"], "range": ["#1b9e77", "#d95f02"]},
          "legend": {"title": "Type:"}}
      }
    },
    {
      "data": {"name": "green"},
      "mark": {"type": "line", "strokeWidth": 4.5, "strokeJoin": "round"},
      "encoding": {
        "x": {"field": "f", "type": "quantitative",
          "scale": {"type": "log", "domain": [0.03591, 114.65], "nice": false},
          "axis": {"orient": "bottom", "title": null, "labels": false, "domain": false, "values": [0.1, 1, 10, 100],
            "tickSize": -30, "tickWidth": 2.5, "tickColor": "#111"}},
        "y": {"field": "v", "type": "quantitative", "scale": {"domain": [-183.2, -111.85], "nice": false, "zero": false},
          "axis": {"title": "Noise power density [dBm/Hz]"}},
        "color": {"field": "s", "type": "nominal",
          "scale": {"domain": ["6 cm² output", "Adder input"], "range": ["#1b9e77", "#d95f02"]},
          "legend": {"title": "Type:"}}
      }
    },
    {
      "data": {"name": "orange"},
      "mark": {"type": "line", "strokeWidth": 4.5, "strokeJoin": "round"},
      "encoding": {
        "x": {"field": "f", "type": "quantitative",
          "scale": {"type": "log", "domain": [0.03591, 114.65], "nice": false},
          "axis": {"orient": "bottom", "title": null, "labels": false, "domain": false,
            "values": [0.04, 0.05, 0.06, 0.07, 0.08, 0.09, 0.2, 0.3, 0.4, 0.5, 0.6, 0.7, 0.8, 0.9, 2, 3, 4, 5, 6, 7, 8, 9, 20, 30, 40, 50, 60, 70, 80, 90],
            "tickSize": -11, "tickWidth": 2.5, "tickColor": "#222"}},
        "y": {"field": "v", "type": "quantitative", "scale": {"domain": [-183.2, -111.85], "nice": false, "zero": false},
          "axis": {"title": "Noise power density [dBm/Hz]"}},
        "color": {"field": "s", "type": "nominal",
          "scale": {"domain": ["6 cm² output", "Adder input"], "range": ["#1b9e77", "#d95f02"]},
          "legend": {"title": "Type:"}}
      }
    }
  ],
  "resolve": {"axis": {"x": "independent"}}
}
